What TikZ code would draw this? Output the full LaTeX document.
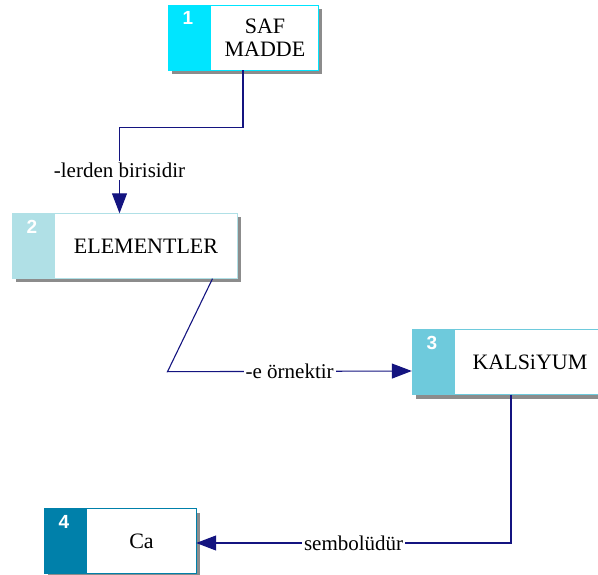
\documentclass[tikz,border=0pt]{standalone}
\usepackage{fontspec}
\setmainfont{Liberation Serif}
\newfontfamily\numfont{Liberation Sans}
\usepackage{xcolor}
\definecolor{colors}{RGB}{0,229,255}
\definecolor{colore}{RGB}{176,224,230}
\definecolor{colork}{RGB}{110,202,220}
\definecolor{colorc}{RGB}{0,128,170}
\definecolor{colorl}{RGB}{20,20,128}
\usetikzlibrary{arrows.meta,shadows}
\tikzset{conc/.style={rectangle, draw=#1, fill=white, inner sep=0pt, minimum height=65pt,
    drop shadow={shadow xshift=4pt, shadow yshift=-4pt, fill=black!45, opacity=1},
    path picture={\fill[#1] (path picture bounding box.south west) rectangle ([xshift=43pt]path picture bounding box.north west);}}}
\tikzstyle{num} = [text=white, font=\numfont\bfseries\fontsize{19}{19}\selectfont, inner sep=0pt]
\tikzstyle{txt} = [align=center, font=\fontsize{22}{23}\selectfont, inner sep=0pt]
\tikzstyle{link} = [draw=colorl, line width=1.1pt, -{Triangle[length=20pt,width=15pt]}]
\tikzstyle{lbl} = [fill=white, inner sep=2pt, font=\fontsize{21}{23}\selectfont]

\begin{document}
\begin{tikzpicture}[x=1pt,y=-1pt]
  \useasboundingbox (0,0) rectangle (598,575);

  \node[conc=colors, minimum width=150pt] (c1) at (243,37.5) {};
  \node[num] (n1) at ([xshift=20pt,yshift=-13.5pt]c1.north west) {1};
  \node[txt] (t1) at (265,37.5) {SAF\\MADDE};

  \node[conc=colore, minimum width=225pt] (c2) at (124.5,246) {};
  \node[num] (n2) at ([xshift=20pt,yshift=-13.5pt]c2.north west) {2};
  \node[txt] (t2) at (146,246) {ELEMENTLER};

  \node[conc=colork, minimum width=190pt] (c3) at (507,362) {};
  \node[num] (n3) at ([xshift=20pt,yshift=-13.5pt]c3.north west) {3};
  \node[txt] (t3) at (530,362) {KALSiYUM};

  \node[conc=colorc, minimum width=152pt] (c4) at (120,541) {};
  \node[num] (n4) at ([xshift=20pt,yshift=-13.5pt]c4.north west) {4};
  \node[txt] (t4) at (141.5,541) {Ca};

  % connections
  \draw[link] (c1.south) -- ++(0,57) -| node[pos=0.75,lbl] {-lerden birisidir} ([xshift=-5pt]c2.north);
  \draw[link] ([xshift=88pt]c2.south) -- ++(-45,93) -- node[lbl] {-e örnektir} ([yshift=-9pt]c3.west);
  \draw[link] ([xshift=4pt]c3.south) |- node[pos=0.75,lbl] {sembolüdür} ([yshift=-2pt]c4.east);
\end{tikzpicture}
\end{document}
